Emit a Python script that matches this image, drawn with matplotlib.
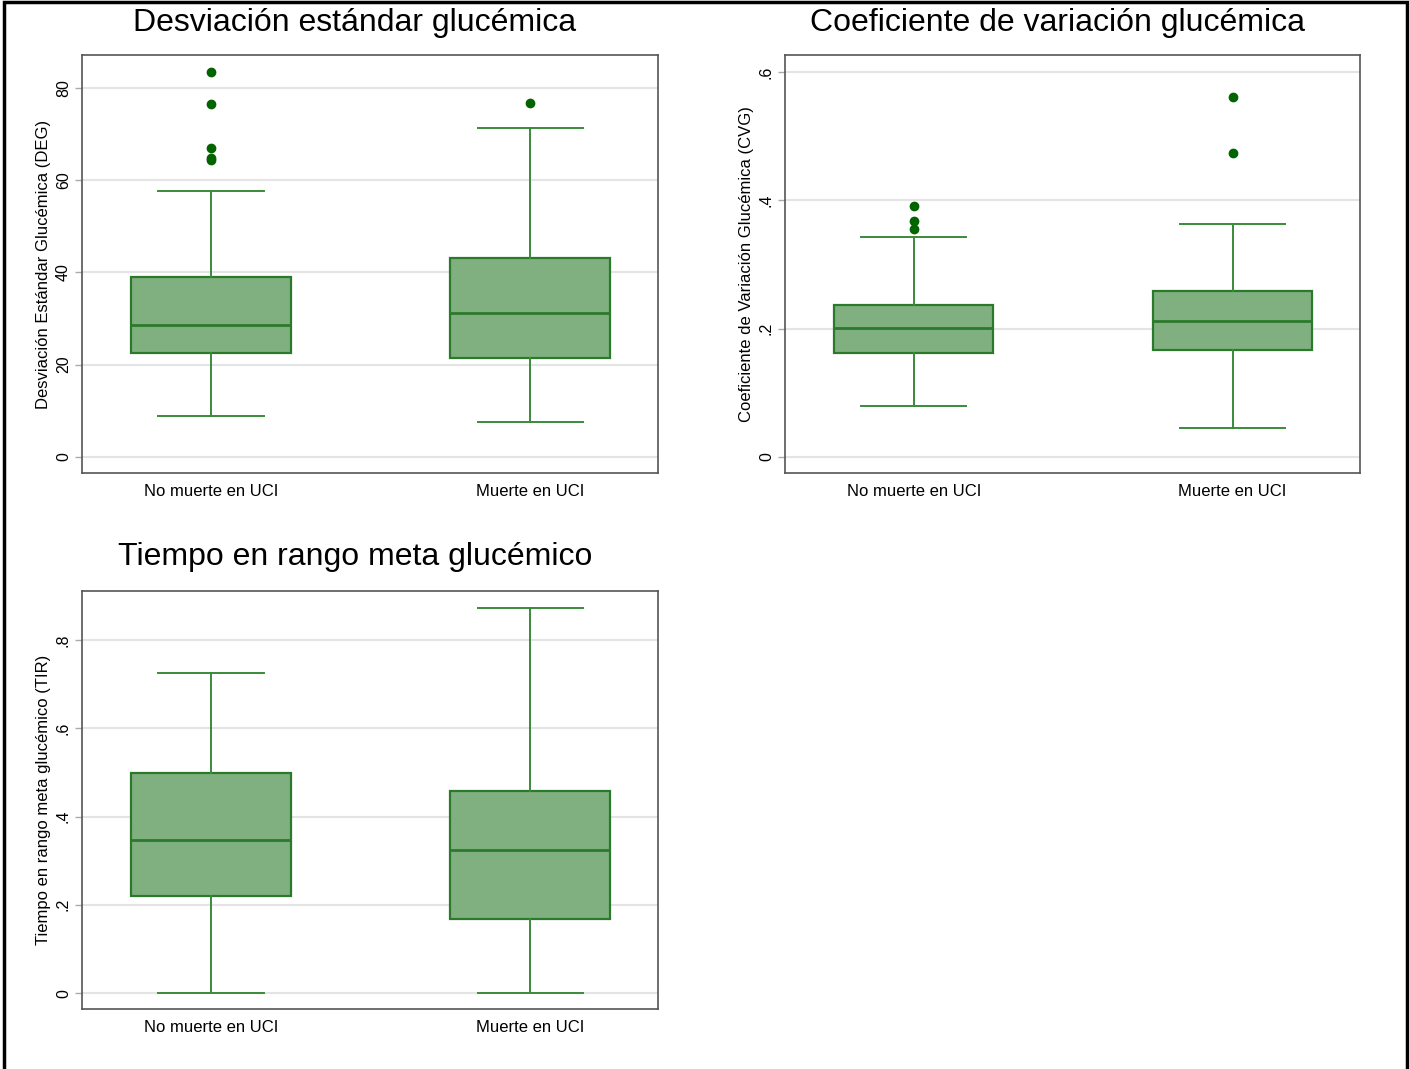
import matplotlib
matplotlib.use("Agg")
import matplotlib.pyplot as plt
from matplotlib.patches import Rectangle

plt.rcParams["font.family"] = ["Liberation Sans", "DejaVu Sans"]

# --- data ---
groups = ["No muerte en UCI", "Muerte en UCI"]

deg_whislo = [8.8, 7.6]
deg_q1 = [22.5, 21.4]
deg_med = [28.7, 31.1]
deg_q3 = [39.0, 43.1]
deg_whishi = [57.6, 71.3]
deg_fliers = [[83.4, 76.5, 67.0, 64.8, 64.3], [76.7]]
deg_ticks = [0, 20, 40, 60, 80]
deg_ticklabels = ["0", "20", "40", "60", "80"]

cvg_whislo = [0.080, 0.045]
cvg_q1 = [0.162, 0.167]
cvg_med = [0.201, 0.212]
cvg_q3 = [0.237, 0.259]
cvg_whishi = [0.343, 0.363]
cvg_fliers = [[0.391, 0.368, 0.355], [0.561, 0.474]]
cvg_ticks = [0, 0.2, 0.4, 0.6]
cvg_ticklabels = ["0", ".2", ".4", ".6"]

tir_whislo = [0.0, 0.0]
tir_q1 = [0.220, 0.168]
tir_med = [0.347, 0.324]
tir_q3 = [0.499, 0.458]
tir_whishi = [0.725, 0.873]
tir_fliers = [[], []]
tir_ticks = [0, 0.2, 0.4, 0.6, 0.8]
tir_ticklabels = ["0", ".2", ".4", ".6", ".8"]

W, H = 1409, 1069
BOX_FACE = "#80b080"
BOX_EDGE = "#2b7a2b"
WHISK = "#3a8a3a"
FLIER = "#006400"
GRID = "#e4e4e4"
SPINE = "#555555"


def stats(whislo, q1, med, q3, whishi, fliers):
    out = []
    for i in range(len(groups)):
        out.append(dict(whislo=whislo[i], q1=q1[i], med=med[i], q3=q3[i],
                        whishi=whishi[i], fliers=fliers[i], label=groups[i]))
    return out


def panel(px_left, px_top, px_w, px_h, st, ylim, ticks, ticklabels,
          ylabel, title, title_x, title_y):
    ax = fig.add_axes([px_left / W, 1 - (px_top + px_h) / H, px_w / W, px_h / H])
    ax.bxp(
        st, positions=[1, 2], widths=0.5, patch_artist=True, capwidths=0.33,
        boxprops=dict(facecolor=BOX_FACE, edgecolor=BOX_EDGE, linewidth=1.6),
        medianprops=dict(color=BOX_EDGE, linewidth=2.0),
        whiskerprops=dict(color=WHISK, linewidth=1.4),
        capprops=dict(color=WHISK, linewidth=1.4),
        flierprops=dict(marker="o", markerfacecolor=FLIER, markeredgecolor=FLIER,
                        markersize=6, linestyle="none"),
        zorder=3,
    )
    ax.set_xlim(0.596, 2.40)
    ax.set_ylim(*ylim)
    ax.set_yticks(ticks)
    ax.set_yticklabels(ticklabels, rotation=90, va="center")
    ax.set_xticks([1, 2])
    ax.set_xticklabels(groups)
    ax.tick_params(axis="x", length=0, pad=8, labelsize=12)
    ax.tick_params(axis="y", length=5, width=1, color="#aaaaaa", pad=3, labelsize=11.5)
    ax.yaxis.grid(True, color=GRID, linewidth=1.5, zorder=0)
    ax.set_axisbelow(True)
    for s in ax.spines.values():
        s.set_color(SPINE)
        s.set_linewidth(1.2)
    ax.set_ylabel(ylabel, fontsize=12)
    ax.yaxis.set_label_coords(-31 / px_w, 0.5)
    fig.text(title_x / W, 1 - title_y / H, title, ha="center", va="center", fontsize=23)
    return ax


fig = plt.figure(figsize=(W / 100, H / 100), dpi=100)
fig.patch.set_facecolor("white")

panel(82, 55, 576, 418, stats(deg_whislo, deg_q1, deg_med, deg_q3, deg_whishi, deg_fliers),
      (-3.47, 87.1), deg_ticks, deg_ticklabels,
      "Desviación Estándar Glucémica (DEG)", "Desviación estándar glucémica", 355, 23)

panel(785, 55, 575, 418, stats(cvg_whislo, cvg_q1, cvg_med, cvg_q3, cvg_whishi, cvg_fliers),
      (-0.025, 0.6267), cvg_ticks, cvg_ticklabels,
      "Coeficiente de Variación Glucémica (CVG)", "Coeficiente de variación glucémica", 1057, 23)

panel(82, 591, 576, 418, stats(tir_whislo, tir_q1, tir_med, tir_q3, tir_whishi, tir_fliers),
      (-0.036, 0.911), tir_ticks, tir_ticklabels,
      "Tiempo en rango meta glucémico (TIR)", "Tiempo en rango meta glucémico", 355, 557)

# outer frame (open at the bottom, as in the source)
fig.add_artist(Rectangle((4 / W, -0.05), 1403 / W, 1.05 - 2 / H, transform=fig.transFigure,
                         fill=False, edgecolor="black", linewidth=2.5))

fig.savefig("out.png", dpi=100)
